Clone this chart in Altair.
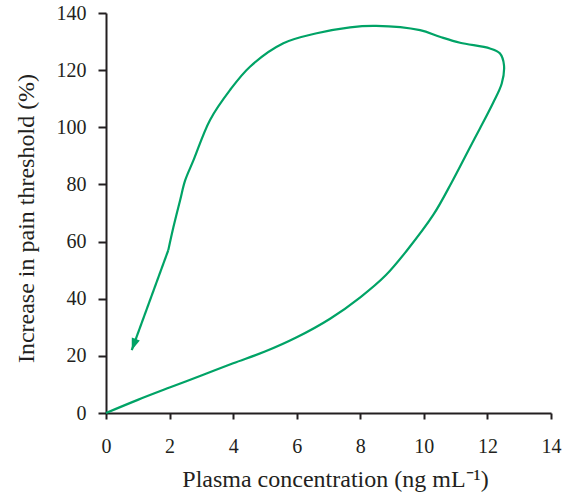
import altair as alt
import pandas as pd

# Hysteresis loop (ordered path): x = plasma concentration, y = increase in pain threshold
curve_x = [0, 1, 2, 3, 4, 5, 6, 7.05, 8, 8.8, 9.46, 10.3, 10.87, 11.4, 11.76, 12.18,
           12.45, 12.52, 12.39, 12.08, 11.14, 10.5, 9.88, 8.5, 7.68, 6.63, 5.58, 4.53,
           3.9, 3.27, 2.75, 2.49, 2.33, 2.12, 1.96]
curve_y = [0, 4.6, 8.9, 13.1, 17.4, 21.5, 26.5, 33, 40.5, 48.2, 56.8, 69.4, 80.6,
           91.9, 99.5, 108.6, 115.3, 121.8, 125.9, 127.6, 129.6, 131.7, 134, 135.5,
           135, 132.9, 129.4, 121.2, 113, 102.5, 88.4, 81.4, 74.4, 65, 57]
tail_x = [1.96, 0.81]
tail_y = [57, 22]
arrow_x = [0.81]
arrow_y = [22]
x_ticks = list(range(0, 15))
y_ticks = list(range(0, 141, 20))

GREEN = "#00a366"
INK = "#231f20"
FONT = "Liberation Serif"

curve = pd.DataFrame({"x": curve_x, "y": curve_y, "i": list(range(len(curve_x)))})
tail = pd.DataFrame({"x": tail_x, "y": tail_y, "i": [0, 1]})
arrow = pd.DataFrame({"x": arrow_x, "y": arrow_y})

xs = alt.Scale(domain=[0, 14], nice=False, zero=False)
ys = alt.Scale(domain=[0, 140], nice=False, zero=False)

x_axis = alt.Axis(values=x_ticks, labelExpr="datum.value % 2 === 0 ? datum.label : ''",
                  title="Plasma concentration (ng mL⁻¹)", tickSize=6,
                  labelPadding=17, titleX=229, titleY=73,
                  titleAlign="center", titleBaseline="alphabetic", labelFlush=False)
y_axis = alt.Axis(values=y_ticks, title="Increase in pain threshold (%)",
                  tickSize=8, labelPadding=12, titleX=-73, titleY=205,
                  titleAlign="center", titleBaseline="alphabetic", titleAngle=-90)

base_line = alt.Chart(curve).mark_line(color=GREEN, strokeWidth=2.2,
                                       interpolate="catmull-rom").encode(
    x=alt.X("x:Q", scale=xs, axis=x_axis),
    y=alt.Y("y:Q", scale=ys, axis=y_axis),
    order="i:Q",
)
tail_line = alt.Chart(tail).mark_line(color=GREEN, strokeWidth=2.2).encode(
    x=alt.X("x:Q", scale=xs), y=alt.Y("y:Q", scale=ys), order="i:Q")
head = alt.Chart(arrow).mark_point(
    shape="M0,0 L0.36,1 L-0.36,1 Z", filled=True, color=GREEN, opacity=1,
    size=560, angle=200, strokeWidth=0).encode(
    x=alt.X("x:Q", scale=xs), y=alt.Y("y:Q", scale=ys))

chart = alt.layer(base_line, tail_line, head).properties(
    width=445, height=400,
    autosize=alt.AutoSizeParams(type="none"),
    padding={"left": 106, "top": 13, "right": 14, "bottom": 87},
).configure(font=FONT).configure_view(stroke=None).configure_axis(
    grid=False, labelFont=FONT, titleFont=FONT, labelFontSize=20, titleFontSize=24,
    titleFontWeight="normal", labelColor=INK, titleColor=INK,
    domainColor=INK, tickColor=INK, domainWidth=2, tickWidth=2,
)

chart.save("out.html", embed_options={"renderer": "svg", "actions": False})
